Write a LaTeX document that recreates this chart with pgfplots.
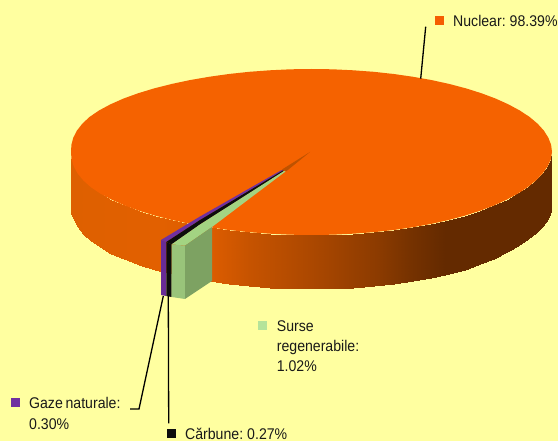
\documentclass[border=0pt]{standalone}
\usepackage{pgfplots}
\pgfplotsset{compat=1.18}
\usepackage{fontspec}
\setmainfont[WordSpace=0.7]{Liberation Sans}
\definecolor{bgy}{RGB}{255,255,160}
\definecolor{orangeT}{RGB}{245,98,0}
\definecolor{purT}{RGB}{112,48,160}
\definecolor{purF}{RGB}{104,44,150}
\definecolor{blk}{RGB}{13,13,13}
\definecolor{grnT}{RGB}{163,212,130}
\definecolor{grnF}{RGB}{153,196,122}
\definecolor{grnS}{RGB}{125,162,98}
\definecolor{grnL}{RGB}{181,227,154}
\definecolor{sliver}{RGB}{190,82,0}
\newcommand{\lab}[3]{\node[anchor=base west,inner sep=0pt,xscale=0.91,font=\fontsize{15.5}{19}\selectfont,text=black!90] at (axis cs:#1,#2) {#3};}
\begin{document}
\begin{tikzpicture}
\begin{axis}[
  scale only axis, width=558pt, height=441pt,
  xmin=0, xmax=558, ymin=0, ymax=441, y dir=reverse,
  hide axis, clip=true,
  colormap={side}{
    rgb255(71)=(222,96,0)
    rgb255(160)=(226,96,0)
    rgb255(212)=(220,92,0)
    rgb255(250)=(198,83,0)
    rgb255(310)=(172,72,0)
    rgb255(377)=(140,59,0)
    rgb255(410)=(118,50,0)
    rgb255(445)=(100,42,0)
    rgb255(552)=(100,42,0)
  },
  point meta min=71, point meta max=552,
]
% background
\addplot[fill=bgy,draw=none] coordinates {(0,0)(558,0)(558,441)(0,441)};
% side band of the pie
\addplot[patch,patch type=rectangle,shader=interp,point meta=x] coordinates {
(552,152)(550.9,159.2)(550.9,211.5)(552,206)
(550.9,159.2)(547.6,166.4)(547.6,219)(550.9,211.5)
(547.6,166.4)(542.6,173.5)(542.6,226)(547.6,219)
(542.6,173.5)(536,180.4)(536,233)(542.6,226)
(536,180.4)(527.8,187.1)(527.8,239.5)(536,233)
(527.8,187.1)(518.1,193.5)(518.1,246)(527.8,239.5)
(518.1,193.5)(506.9,199.6)(506.9,252.5)(518.1,246)
(506.9,199.6)(494.2,205.4)(494.2,259)(506.9,252.5)
(494.2,205.4)(480.3,210.7)(480.3,264.5)(494.2,259)
(480.3,210.7)(465.1,215.6)(465.1,269.6)(480.3,264.5)
(465.1,215.6)(448.7,220)(448.7,274)(465.1,269.6)
(448.7,220)(431.3,223.9)(431.3,277.9)(448.7,274)
(431.3,223.9)(413.1,227.2)(413.1,281.2)(431.3,277.9)
(413.1,227.2)(393.8,230)(393.8,284)(413.1,281.2)
(393.8,230)(373.7,232.2)(373.7,286.2)(393.8,284)
(373.7,232.2)(353.3,233.7)(353.3,287.7)(373.7,286.2)
(353.3,233.7)(332.5,234.7)(332.5,288.7)(353.3,287.7)
(332.5,234.7)(311.5,235)(311.5,289)(332.5,288.7)
(311.5,235)(290.5,234.7)(290.5,288.7)(311.5,289)
(290.5,234.7)(269.7,233.7)(269.7,287.7)(290.5,288.7)
(269.7,233.7)(249.3,232.2)(249.3,286.2)(269.7,287.7)
(249.3,232.2)(228.9,230)(228.9,284)(249.3,286.2)
(228.9,230)(209.3,227.2)(209.3,281.2)(228.9,284)
(209.3,227.2)(190.25,223.9)(190.25,277.9)(209.3,281.2)
(190.25,223.9)(172.1,220)(172.1,274)(190.25,277.9)
(172.1,220)(154.9,215.6)(154.9,269.6)(172.1,274)
(154.9,215.6)(139,210.7)(139,264.7)(154.9,269.6)
(139,210.7)(124.5,205.4)(124.5,259.4)(139,264.7)
(124.5,205.4)(111.5,199.6)(111.5,253.6)(124.5,259.4)
(111.5,199.6)(100.2,193.5)(100.2,247.5)(111.5,253.6)
(100.2,193.5)(90.7,187.1)(90.7,241.1)(100.2,247.5)
(90.7,187.1)(83.3,180.4)(83.3,234.4)(90.7,241.1)
(83.3,180.4)(77.6,173.5)(77.6,227.5)(83.3,234.4)
(77.6,173.5)(73.7,166.4)(73.7,220.4)(77.6,227.5)
(73.7,166.4)(71.5,159.2)(71.5,213.2)(73.7,220.4)
(71.5,159.2)(71,152)(71,206)(71.5,213.2)
};
% top face of the pie
\addplot[fill=orangeT,draw=none] coordinates {
(552,152)(550.9,159.2)(547.6,166.4)(542.6,173.5)(536,180.4)(527.8,187.1)(518.1,193.5)(506.9,199.6)(494.2,205.4)(480.3,210.7)(465.1,215.6)(448.7,220)(431.3,223.9)(413.1,227.2)(393.8,230)(373.7,232.2)(353.3,233.7)(332.5,234.7)(311.5,235)(290.5,234.7)(269.7,233.7)(249.3,232.2)(228.9,230)(209.3,227.2)(190.25,223.9)(172.1,220)(154.9,215.6)(139,210.7)(124.5,205.4)(111.5,199.6)(100.2,193.5)(90.7,187.1)(83.3,180.4)(77.6,173.5)(73.7,166.4)(71.5,159.2)(71,152)
(71.4,144.8)(73.3,137.6)(77,130.5)(82.4,123.6)(89.6,116.9)(99,110.5)(110.3,104.4)(123.4,98.6)(138,93.3)(154.1,88.4)(171.5,84)(189.85,80.1)(209.1,76.8)(228.8,74)(249.3,71.8)(269.7,70.3)(290.5,69.3)(311.5,69)(332.5,69.3)(353.3,70.3)(373.7,71.8)(393.8,74)(413.1,76.8)(431.75,80.1)(449.4,84)(466.1,88.4)(481.6,93.3)(495.7,98.6)(508.5,104.4)(519.8,110.5)(529.5,116.9)(537.5,123.6)(543.8,130.5)(548.3,137.6)(551.1,144.8)
};
% inner sliver
\addplot[fill=sliver,draw=none] coordinates {(282,169.5)(310,152)(286,171.5)};
% purple slice
\addplot[fill=purT,draw=none] coordinates {(161,240)(200,216.5)(281.7,170)(283,170.5)(200,220)(166.3,242)};
\addplot[fill=purF,draw=none] coordinates {(161,240)(166.3,242)(166.3,296)(161,295)};
% black slice
\addplot[fill=blk,draw=none] coordinates {(166.3,242)(200,220)(283,170.5)(284,171)(200,224.5)(171.7,244.3)};
\addplot[fill=blk,draw=none] coordinates {(166.3,242)(171.7,244.3)(171.7,297)(166.3,296)};
% renewable slice
\addplot[fill=grnT,draw=none] coordinates {(171.7,244.3)(185,245.7)(212,227)(285.5,171.5)(284,171)(200,224.5)};
\addplot[fill=grnF,draw=none] coordinates {(171.7,244.3)(185,245.7)(185,299)(171.7,297)};
\addplot[fill=grnS,draw=none] coordinates {(185,245.7)(212,227)(212,281)(185,299)};
% leader lines
\addplot[black,line width=1.3pt] coordinates {(425.7,26.7)(420.7,78.7)};
\addplot[black,line width=1.3pt] coordinates {(130,409)(139,409)(163.3,296)};
\addplot[black,line width=1.3pt] coordinates {(168.3,296)(168.7,423.3)};
% legend swatches
\addplot[fill=orangeT!95!red,draw=none] coordinates {(435,16)(444,16)(444,25)(435,25)};
\addplot[fill=grnL,draw=none] coordinates {(258.3,321)(267.3,321)(267.3,330)(258.3,330)};
\addplot[fill=purT,draw=none] coordinates {(11,398.3)(20,398.3)(20,407.3)(11,407.3)};
\addplot[fill=blk,draw=none] coordinates {(167,429.3)(176,429.3)(176,438.3)(167,438.3)};
% labels
\lab{453}{27}{Nuclear: 98.39\%}
\lab{276.7}{331.7}{Surse}
\lab{276.7}{351.7}{regenerabile:}
\lab{276.7}{371.7}{1.02\%}
\lab{29}{408.3}{Gaze naturale:}
\lab{29}{429}{0.30\%}
\lab{185}{439}{Cărbune: 0.27\%}
\end{axis}
\end{tikzpicture}
\end{document}
